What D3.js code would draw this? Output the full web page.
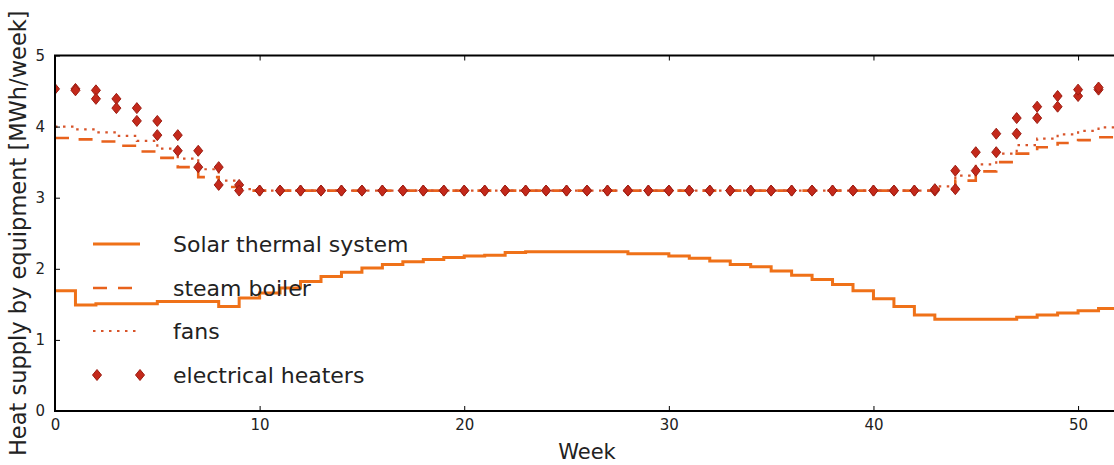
<!DOCTYPE html>
<html>
<head>
<meta charset="utf-8">
<script src="https://cdn.jsdelivr.net/npm/d3@7"></script>
<style>
  html, body { margin: 0; padding: 0; background: #fff; }
  svg { display: block; font-family: "DejaVu Sans", sans-serif; }
</style>
</head>
<body>
<svg id="chart" width="1114" height="465"></svg>
<script>
// Weekly heat supply per equipment, MWh/week (value holds from week i to i+1)
const weeks = [0,1,2,3,4,5,6,7,8,9,10,11,12,13,14,15,16,17,18,19,20,21,22,23,24,25,
  26,27,28,29,30,31,32,33,34,35,36,37,38,39,40,41,42,43,44,45,46,47,48,49,50,51];

const solarThermal = [1.69,1.49,1.51,1.51,1.51,1.54,1.54,1.54,1.47,1.59,1.66,1.73,1.82,
  1.89,1.95,2.01,2.06,2.10,2.13,2.16,2.18,2.19,2.23,2.24,2.24,2.24,2.24,2.24,2.21,2.21,
  2.18,2.15,2.11,2.06,2.03,1.97,1.91,1.85,1.78,1.69,1.58,1.47,1.35,1.29,1.29,1.29,1.29,
  1.32,1.35,1.38,1.41,1.44];

const steamBoiler = [3.84,3.82,3.79,3.73,3.65,3.56,3.43,3.29,3.15,3.10,3.10,3.10,3.10,
  3.10,3.10,3.10,3.10,3.10,3.10,3.10,3.10,3.10,3.10,3.10,3.10,3.10,3.10,3.10,3.10,3.10,
  3.10,3.10,3.10,3.10,3.10,3.10,3.10,3.10,3.10,3.10,3.10,3.10,3.10,3.12,3.24,3.37,3.50,
  3.62,3.71,3.77,3.81,3.85];

const fans = [4.00,3.96,3.92,3.87,3.80,3.69,3.55,3.40,3.24,3.12,3.10,3.10,3.10,3.10,
  3.10,3.10,3.10,3.10,3.10,3.10,3.10,3.10,3.10,3.10,3.10,3.10,3.10,3.10,3.10,3.10,3.10,
  3.10,3.10,3.10,3.10,3.10,3.10,3.10,3.10,3.10,3.10,3.10,3.10,3.16,3.31,3.47,3.62,3.74,
  3.83,3.89,3.94,3.99];

const electricalHeaters = [4.53,4.51,4.39,4.26,4.08,3.88,3.66,3.43,3.18,3.10,3.10,3.10,
  3.10,3.10,3.10,3.10,3.10,3.10,3.10,3.10,3.10,3.10,3.10,3.10,3.10,3.10,3.10,3.10,3.10,
  3.10,3.10,3.10,3.10,3.10,3.10,3.10,3.10,3.10,3.10,3.10,3.10,3.10,3.10,3.12,3.38,3.64,
  3.90,4.12,4.28,4.43,4.52,4.55];

const seriesNames = ["Solar thermal system", "steam boiler", "fans", "electrical heaters"];
const xTicks = [0, 10, 20, 30, 40, 50];
const yTicks = [0, 1, 2, 3, 4, 5];
const xLabel = "Week";
const yLabel = "Heat supply by equipment [MWh/week]";

// Plot frame in pixels
const plotLeft = 55, plotRight = 1119, plotTop = 55.5, plotBottom = 411;

const svg = d3.select("#chart");
const x = d3.scaleLinear().domain([0, 52]).range([plotLeft, plotRight]);
const y = d3.scaleLinear().domain([0, 5]).range([plotBottom, plotTop]);

// Each week becomes a flat segment: (week, v) -> (week + 1, v)
const stepPoints = vals => vals.flatMap((v, i) => [[weeks[i], v], [weeks[i] + 1, v]]);

svg.append("defs").append("clipPath").attr("id", "plotClip")
  .append("rect").attr("x", plotLeft).attr("y", plotTop)
  .attr("width", plotRight - plotLeft).attr("height", plotBottom - plotTop);

const plot = svg.append("g").attr("clip-path", "url(#plotClip)");
const line = d3.line().x(d => x(d[0])).y(d => y(d[1]));

const styles = [
  { color: "#ef7118", width: 3, dash: null },
  { color: "#e8621c", width: 2.6, dash: "14,11" },
  { color: "#d8542a", width: 2.2, dash: "2.5,5.5" },
  { color: "#c4291b", marker: true }
];

const allSeries = [solarThermal, steamBoiler, fans, electricalHeaters];

const diamond = (cx, cy) =>
  `M${cx},${cy - 5.5}L${cx + 4.5},${cy}L${cx},${cy + 5.5}L${cx - 4.5},${cy}Z`;

allSeries.forEach((vals, k) => {
  const st = styles[k];
  const pts = stepPoints(vals);
  if (st.marker) {
    plot.append("g").selectAll("path").data(pts).join("path")
      .attr("d", d => diamond(x(d[0]), y(d[1])))
      .attr("fill", st.color)
      .attr("stroke", "#9c1d12")
      .attr("stroke-width", 1);
  } else {
    plot.append("path").datum(pts)
      .attr("d", line)
      .attr("fill", "none")
      .attr("stroke", st.color)
      .attr("stroke-width", st.width)
      .attr("stroke-dasharray", st.dash)
      .attr("stroke-linejoin", "miter");
  }
});

// Axes: inward ticks on all four sides
const tickLen = 5;
const fmt = d3.format("d");
const gx = svg.append("g").attr("transform", `translate(0,${plotBottom})`)
  .call(d3.axisBottom(x).tickValues(xTicks).tickFormat(fmt)
    .tickSizeInner(-tickLen).tickSizeOuter(0).tickPadding(8));
const gy = svg.append("g").attr("transform", `translate(${plotLeft},0)`)
  .call(d3.axisLeft(y).tickValues(yTicks).tickFormat(fmt)
    .tickSizeInner(-tickLen).tickSizeOuter(0).tickPadding(10));
const gt = svg.append("g").attr("transform", `translate(0,${plotTop})`)
  .call(d3.axisTop(x).tickValues(xTicks).tickSizeInner(-tickLen).tickSizeOuter(0).tickFormat(""));
const gr = svg.append("g").attr("transform", `translate(${plotRight},0)`)
  .call(d3.axisRight(y).tickValues(yTicks).tickSizeInner(-tickLen).tickSizeOuter(0).tickFormat(""));

[gx, gy, gt, gr].forEach(g => {
  g.select(".domain").remove();
  g.selectAll(".tick line").attr("stroke", "#000").attr("stroke-width", 1);
  g.selectAll(".tick text").attr("fill", "#222").style("font-size", "15px")
    .style("font-family", "DejaVu Sans, sans-serif");
});

// Frame
svg.append("rect")
  .attr("x", plotLeft).attr("y", plotTop)
  .attr("width", plotRight - plotLeft).attr("height", plotBottom - plotTop)
  .attr("fill", "none").attr("stroke", "#000").attr("stroke-width", 2);

// Axis labels
svg.append("text")
  .attr("x", (plotLeft + plotRight) / 2).attr("y", 459)
  .attr("text-anchor", "middle")
  .style("font-size", "21px").attr("fill", "#222")
  .text(xLabel);

svg.append("text")
  .attr("transform", `translate(26,${(plotTop + plotBottom) / 2}) rotate(-90)`)
  .attr("text-anchor", "middle")
  .style("font-size", "22.5px").attr("fill", "#222")
  .text(yLabel);

// Legend
const legend = svg.append("g");
const rowY = [244, 288, 331, 375];
seriesNames.forEach((name, k) => {
  const st = styles[k];
  const yy = rowY[k];
  if (st.marker) {
    [97, 140].forEach(cx => legend.append("path")
      .attr("d", diamond(cx, yy))
      .attr("fill", st.color).attr("stroke", "#9c1d12").attr("stroke-width", 1));
  } else {
    legend.append("line")
      .attr("x1", 93).attr("x2", 140).attr("y1", yy).attr("y2", yy)
      .attr("stroke", st.color).attr("stroke-width", st.width)
      .attr("stroke-dasharray", st.dash);
  }
  legend.append("text")
    .attr("x", 173).attr("y", yy).attr("dy", "0.35em")
    .style("font-size", "22px").attr("fill", "#222")
    .text(name);
});
</script>
</body>
</html>
